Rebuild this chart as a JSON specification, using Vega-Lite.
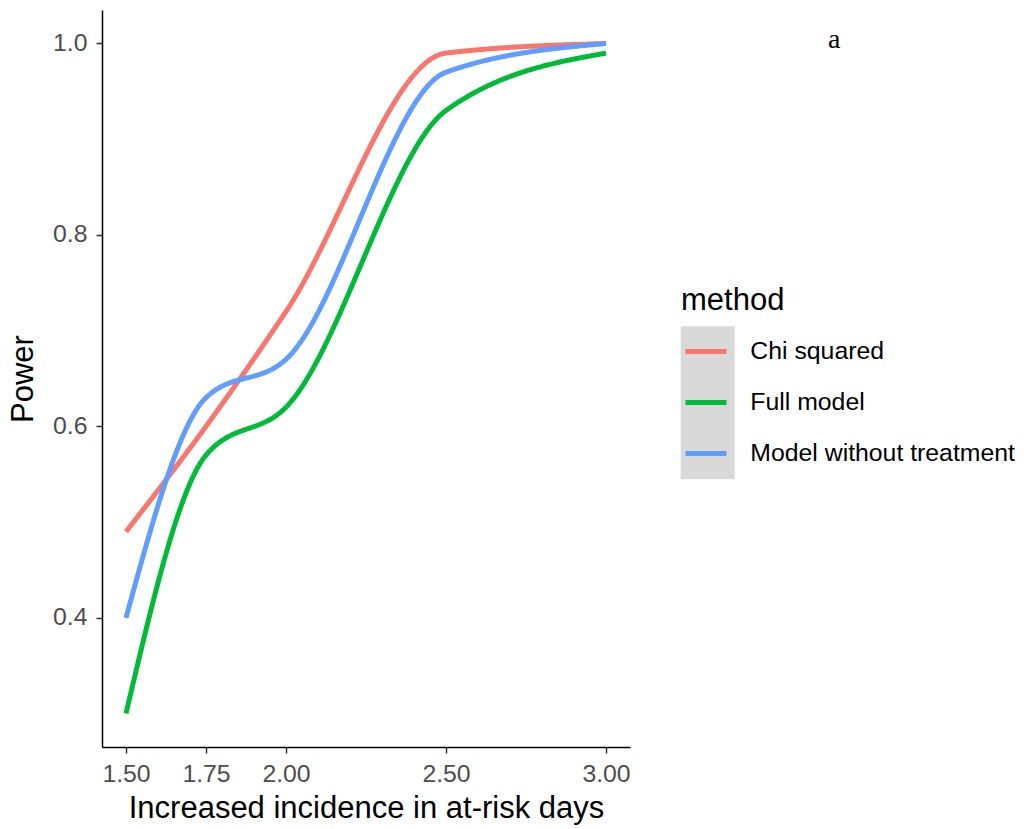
{
  "$schema": "https://vega.github.io/schema/vega-lite/v6.json",
  "autosize": {"type": "none"},
  "width": 528,
  "height": 737,
  "padding": {"left": 102, "top": 10, "right": 401, "bottom": 82},
  "background": "white",
  "title": {"text": "a", "frame": "group", "font": "Liberation Serif", "fontSize": 28, "fontWeight": "normal", "color": "black", "anchor": "start", "baseline": "alphabetic", "dx": 726, "dy": 38, "offset": -28},
  "data": {"values": [
    {"x": 1.5, "power": 0.49, "method": "Chi squared"},
    {"x": 1.75, "power": 0.60, "method": "Chi squared"},
    {"x": 2.0, "power": 0.72, "method": "Chi squared"},
    {"x": 2.5, "power": 0.99, "method": "Chi squared"},
    {"x": 3.0, "power": 1.0, "method": "Chi squared"},
    {"x": 1.5, "power": 0.30, "method": "Full model"},
    {"x": 1.75, "power": 0.57, "method": "Full model"},
    {"x": 2.0, "power": 0.62, "method": "Full model"},
    {"x": 2.5, "power": 0.93, "method": "Full model"},
    {"x": 3.0, "power": 0.99, "method": "Full model"},
    {"x": 1.5, "power": 0.40, "method": "Model without treatment"},
    {"x": 1.75, "power": 0.63, "method": "Model without treatment"},
    {"x": 2.0, "power": 0.67, "method": "Model without treatment"},
    {"x": 2.5, "power": 0.97, "method": "Model without treatment"},
    {"x": 3.0, "power": 1.0, "method": "Model without treatment"}
  ]},
  "mark": {"type": "line", "interpolate": "monotone", "strokeWidth": 5, "strokeCap": "butt"},
  "encoding": {
    "x": {"field": "x", "type": "quantitative",
      "scale": {"domain": [1.425, 3.075], "nice": false, "zero": false},
      "axis": {"values": [1.5, 1.75, 2.0, 2.5, 3.0], "format": ".2f", "title": "Increased incidence in at-risk days",
        "grid": false, "domainColor": "black", "domainWidth": 1.5, "tickColor": "#333333", "tickWidth": 1.5, "tickSize": 6,
        "labelFont": "Liberation Sans", "labelFontSize": 24.8, "labelColor": "#4d4d4d", "labelPadding": 8,
        "titleFont": "Liberation Sans", "titleFontSize": 31, "titleFontWeight": "normal", "titleColor": "black", "titlePadding": 8}},
    "y": {"field": "power", "type": "quantitative",
      "scale": {"domain": [0.265, 1.035], "nice": false, "zero": false},
      "axis": {"values": [0.4, 0.6, 0.8, 1.0], "format": ".1f", "title": "Power",
        "grid": false, "domainColor": "black", "domainWidth": 1.5, "tickColor": "#333333", "tickWidth": 1.5, "tickSize": 6,
        "labelFont": "Liberation Sans", "labelFontSize": 24.8, "labelColor": "#4d4d4d", "labelPadding": 9,
        "titleFont": "Liberation Sans", "titleFontSize": 31, "titleFontWeight": "normal", "titleColor": "black", "titlePadding": 13}},
    "color": {"field": "method", "type": "nominal",
      "scale": {"domain": ["Chi squared", "Full model", "Model without treatment"], "range": ["#F8766D", "#00BA38", "#619CFF"]},
      "legend": {"title": "method", "orient": "none", "legendX": 579, "legendY": 275.7, "padding": 0, "zindex": 2,
        "titleFont": "Liberation Sans", "titleFontSize": 31, "titleFontWeight": "normal", "titleColor": "black", "titlePadding": 9.5,
        "labelFont": "Liberation Sans", "labelFontSize": 24.8, "labelColor": "black", "labelOffset": 21.3, "labelLimit": 400,
        "symbolType": "stroke", "symbolSize": 1681, "symbolStrokeWidth": 5, "symbolOffset": 2,
        "clipHeight": 50.8, "rowPadding": 0}},
    "strokeDash": {"field": "method", "type": "nominal",
      "scale": {"domain": ["Model without treatment", "Full model", "Chi squared"], "range": [[1, 0], [1, 0], [1, 0]]},
      "legend": {"title": null, "orient": "none", "legendX": 578.7, "legendY": 316.2, "padding": 0, "zindex": 1,
        "values": ["Chi squared", "Full model", "Model without treatment"],
        "fillColor": "#d9d9d9", "labelExpr": "''", "labelOffset": 6, "labelFontSize": 1,
        "symbolType": "stroke", "symbolSize": 1681, "symbolOpacity": 0, "symbolStrokeWidth": 4, "symbolOffset": 3,
        "clipHeight": 50.8, "rowPadding": 0}}
  },
  "config": {"view": {"stroke": null}}
}
